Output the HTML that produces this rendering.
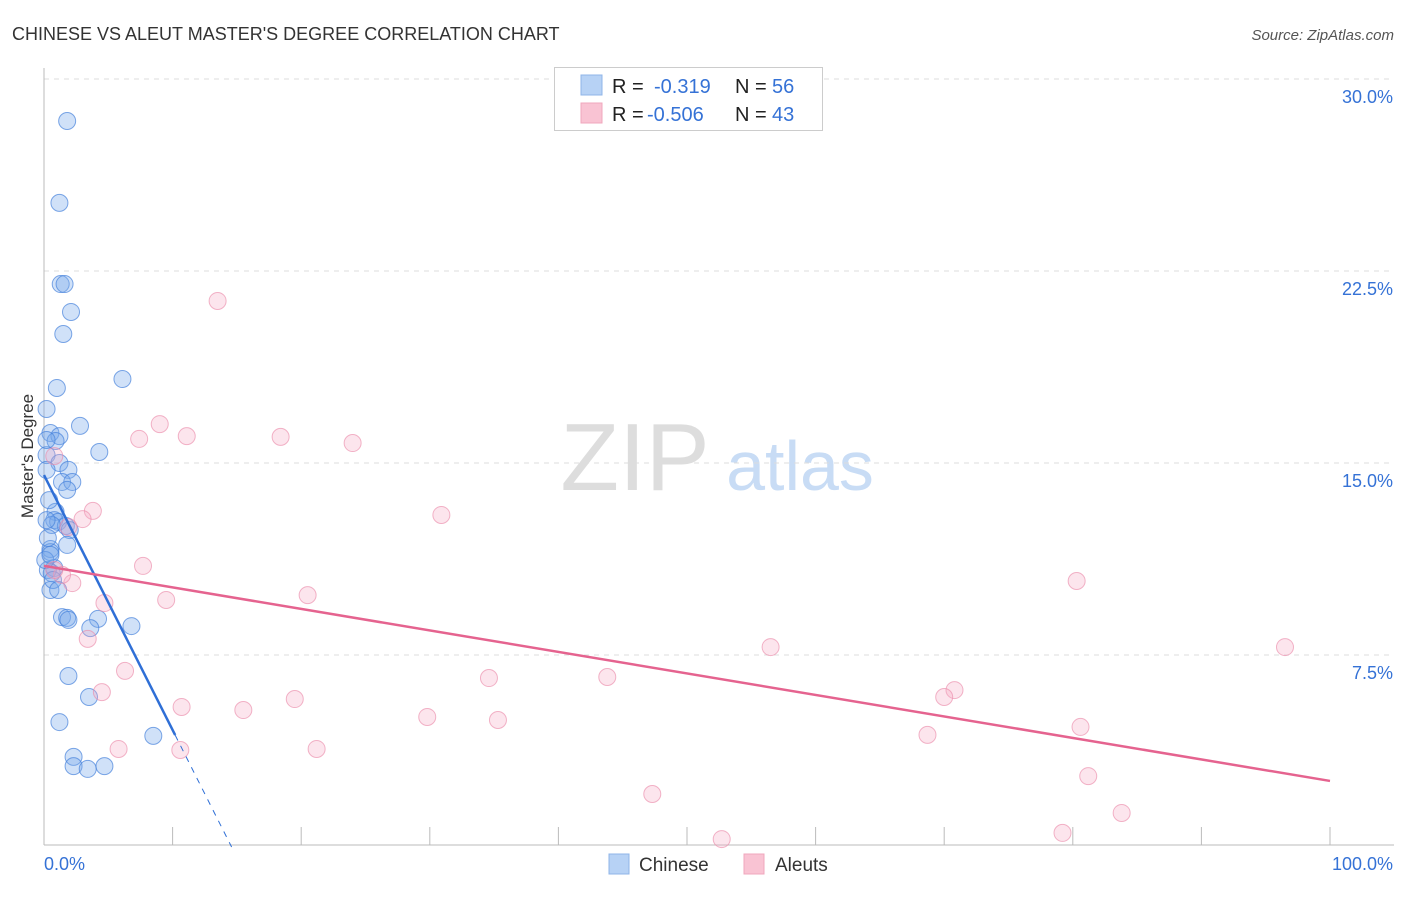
<!DOCTYPE html>
<html><head><meta charset="utf-8"><style>
body{margin:0;background:#fff;font-family:"Liberation Sans",sans-serif;}
svg text{font-family:"Liberation Sans",sans-serif;}
</style></head><body>
<svg id="chart" width="1406" height="892" xmlns="http://www.w3.org/2000/svg">
<text x="12" y="40" font-size="18" fill="#333">CHINESE VS ALEUT MASTER'S DEGREE CORRELATION CHART</text>
<text x="1394" y="40" font-size="15" fill="#555" font-style="italic" text-anchor="end">Source: ZipAtlas.com</text>
<text x="33" y="456" font-size="17" fill="#333" text-anchor="middle" transform="rotate(-90 33 456)">Master's Degree</text>
<g>
<text x="635" y="490" font-size="96" fill="#ddd" font-family="Liberation Serif" text-anchor="middle">ZIP</text>
<text x="800" y="490" font-size="70" fill="#c8dcf5" text-anchor="middle">atlas</text>
</g>
<g id="grid"></g><g id="axes"></g><g id="marks"></g>
<g>
<rect x="554.5" y="67.5" width="268" height="63" fill="#fff" stroke="#ccc"/>
<rect x="581" y="75" width="21" height="20" fill="#b7d2f5" stroke="#8fb4e8"/>
<rect x="581" y="103" width="21" height="20" fill="#f9c3d3" stroke="#f0a7bd"/>
<text x="612" y="93" font-size="20" fill="#222">R = </text><text x="654" y="93" font-size="20" fill="#3572d6">-0.319</text>
<text x="735" y="93" font-size="20" fill="#222">N = </text><text x="772" y="93" font-size="20" fill="#3572d6">56</text>
<text x="612" y="121" font-size="20" fill="#222">R = </text><text x="647" y="121" font-size="20" fill="#3572d6">-0.506</text>
<text x="735" y="121" font-size="20" fill="#222">N = </text><text x="772" y="121" font-size="20" fill="#3572d6">43</text>
</g>
<g>
<rect x="609" y="854" width="20" height="20" fill="#b7d2f5" stroke="#8fb4e8"/>
<text x="639" y="871" font-size="19" fill="#333">Chinese</text>
<rect x="744" y="854" width="20" height="20" fill="#f9c3d3" stroke="#f0a7bd"/>
<text x="775" y="871" font-size="19" fill="#333">Aleuts</text>
</g>
</svg>
<script>
const blueX=[1.8,1.2,1.3,1.6,2.1,1.5,6.1,1.0,0.2,2.8,0.5,1.2,0.9,4.3,0.2,1.2,1.9,0.2,1.4,2.2,1.8,0.9,0.8,1.1,1.7,2.0,1.8,0.5,0.5,0.8,0.3,0.6,0.5,1.4,1.8,1.9,4.2,3.6,6.8,1.9,3.5,1.2,8.5,2.3,2.3,3.4,4.7,0.2,0.4,0.6,0.3,0.7,1.1,0.1,0.5,0.2];
const blueY=[28.36,25.16,21.99,21.99,20.90,20.04,18.28,17.93,17.11,16.45,16.17,16.05,15.86,15.43,15.31,15.0,14.73,14.73,14.26,14.26,13.95,13.09,12.77,12.70,12.54,12.38,11.80,11.64,11.52,10.90,10.82,10.70,10.04,8.98,8.95,8.87,8.91,8.55,8.63,6.68,5.86,4.88,4.34,3.52,3.16,3.05,3.16,15.9,13.55,12.58,12.07,10.43,10.04,11.21,11.41,12.77];
const pinkX=[13.5,9.0,7.4,11.1,18.4,24.0,0.8,30.9,3.8,3.0,1.9,7.7,20.5,9.5,4.7,3.4,2.2,1.4,0.8,80.3,56.5,96.5,6.3,4.5,34.6,43.8,70.8,70.0,19.5,10.7,15.5,29.8,35.3,68.7,80.6,5.8,10.6,21.2,81.2,47.3,83.8,52.7,79.2];
const pinkY=[21.33,16.52,15.94,16.05,16.02,15.78,15.27,12.97,13.13,12.81,12.5,10.98,9.84,9.65,9.53,8.13,10.31,10.63,10.82,10.39,7.81,7.81,6.88,6.05,6.60,6.64,6.13,5.86,5.78,5.47,5.35,5.08,4.96,4.38,4.69,3.83,3.79,3.83,2.77,2.07,1.33,0.31,0.55];
const blueTrend=[14.53,-0.996];
const pinkTrend=[10.98,-0.084];
const yTicks=[7.5,15.0,22.5,30.0];
const yTickLabels=["7.5%","15.0%","22.5%","30.0%"];
const xTicks=[0,10,20,30,40,50,60,70,80,90,100];
const NS="http://www.w3.org/2000/svg";
const X=v=>44+v*12.86, Y=v=>847-v*25.6;
function mk(p,tag,at){const e=document.createElementNS(NS,tag);for(const k in at)e.setAttribute(k,at[k]);p.appendChild(e);return e;}
const grid=document.getElementById('grid'),axes=document.getElementById('axes'),marks=document.getElementById('marks');
yTicks.forEach((t,i)=>{
const l=mk(grid,'line',{x1:44,x2:1394,y1:Y(t),y2:Y(t),stroke:'#ddd','stroke-dasharray':'5,5'});


const tx=mk(axes,'text',{x:1393,y:Y(t)+24,'font-size':18,fill:'#3572d6','text-anchor':'end'});tx.textContent=yTickLabels[i];


});
const ax=mk(axes,'line',{x1:44,x2:44,y1:68,y2:845,stroke:'#bbb'});


const bx=mk(axes,'line',{x1:44,x2:1394,y1:845,y2:845,stroke:'#bbb'});


xTicks.forEach(t=>{const l=mk(axes,'line',{x1:X(t),x2:X(t),y1:827,y2:845,stroke:'#bbb'});

});
const x0=mk(axes,'text',{x:44,y:870,'font-size':18,fill:'#3572d6'});x0.textContent='0.0%';


const x1=mk(axes,'text',{x:1393,y:870,'font-size':18,fill:'#3572d6','text-anchor':'end'});x1.textContent='100.0%';


blueX.forEach((v,i)=>{const c=mk(marks,'circle',{cx:X(v),cy:Y(blueY[i]),r:8.5,fill:'rgba(120,170,235,0.35)',stroke:'rgba(70,130,220,0.7)','stroke-width':1});

});
pinkX.forEach((v,i)=>{const c=mk(marks,'circle',{cx:X(v),cy:Y(pinkY[i]),r:8.5,fill:'rgba(245,170,195,0.3)',stroke:'rgba(235,140,170,0.65)','stroke-width':1});

});
const bEnd=10.2, bZero=-blueTrend[0]/blueTrend[1];
const bl=mk(marks,'line',{x1:X(0),y1:Y(blueTrend[0]),x2:X(bEnd),y2:Y(blueTrend[0]+blueTrend[1]*bEnd),stroke:'#2f6fd6','stroke-width':2.5});


const bd=mk(marks,'line',{x1:X(bEnd),y1:Y(blueTrend[0]+blueTrend[1]*bEnd),x2:X(bZero),y2:Y(0),stroke:'#2f6fd6','stroke-width':1,'stroke-dasharray':'6,6'});


const pl=mk(marks,'line',{x1:X(0),y1:Y(pinkTrend[0]),x2:X(100),y2:Y(pinkTrend[0]+pinkTrend[1]*100),stroke:'#e5638f','stroke-width':2.5});


</script>
</body></html>
